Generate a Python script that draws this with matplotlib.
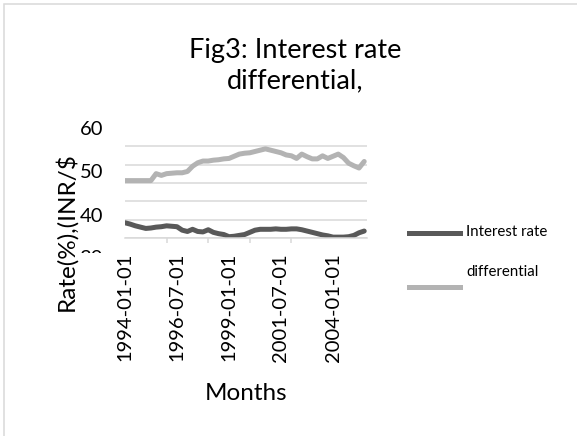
import matplotlib
matplotlib.use('Agg')
import matplotlib.pyplot as plt
import matplotlib.dates as mdates
from matplotlib.lines import Line2D
from matplotlib.patches import Rectangle
from matplotlib.transforms import Bbox, TransformedBbox
import numpy as np
import pandas as pd

W, H = 577, 436

# quarterly observations, Jan 1994 - Jul 2005
dates = pd.date_range('1994-01-01', '2005-07-01', freq='3MS')

rate = [38.2, 37.9, 37.5, 37.2, 36.9, 37.0, 37.2, 37.3, 37.5, 37.4,
        37.3, 36.5, 36.2, 36.7, 36.2, 36.1, 36.6, 36.0, 35.7, 35.5,
        35.0, 35.1, 35.3, 35.5, 36.0, 36.5, 36.7, 36.7, 36.7, 36.8,
        36.7, 36.7, 36.8, 36.8, 36.6, 36.3, 36.0, 35.7, 35.4, 35.2,
        34.9, 34.9, 34.9, 35.0, 35.3, 35.9, 36.3]

diff = [47.9, 47.9, 47.9, 47.9, 47.9, 47.9, 49.5, 49.1, 49.5, 49.6,
        49.7, 49.7, 50.0, 51.2, 52.0, 52.4, 52.4, 52.6, 52.7, 52.9,
        53.0, 53.5, 54.0, 54.2, 54.3, 54.6, 54.9, 55.2, 54.9, 54.6,
        54.3, 53.8, 53.6, 53.0, 54.0, 53.4, 52.9, 52.9, 53.6, 53.0,
        53.5, 54.0, 53.2, 51.9, 51.3, 50.8, 52.3]

tick_dates = ['1994-01-01', '1996-07-01', '1999-01-01', '2001-07-01', '2004-01-01']
y_ticks = [40, 50, 60]

DARK = '#595959'
LIGHT = '#b3b3b3'
GRID = '#d9d9d9'

plt.rcParams['font.family'] = ['Lato', 'DejaVu Sans']

fig = plt.figure(figsize=(W / 100, H / 100), dpi=100)
ax = fig.add_axes([125 / W, 1 - 238 / H, (367 - 125) / W, (238 - 128) / H])

ax.plot(dates, rate, color=DARK, lw=3.6, solid_capstyle='round', solid_joinstyle='round')
ax.plot(dates, diff, color=LIGHT, lw=3.6, solid_capstyle='round', solid_joinstyle='round')

ax.set_xlim(pd.Timestamp('1994-01-01'), pd.Timestamp('2005-08-19'))
ax.set_ylim(34.7, 60)

# x axis: rotated date labels, small tick marks every two years
ax.set_xticks(pd.to_datetime(tick_dates))
ax.set_xticklabels(tick_dates, rotation=90)
ax.xaxis.set_minor_locator(mdates.YearLocator(2))
ax.tick_params(axis='x', which='major', length=0, pad=10.8, labelsize=14.5)
ax.tick_params(axis='x', which='minor', length=3.6, width=1.1, color=GRID, direction='out')

# y axis
ax.set_yticks(y_ticks)
ax.set_yticks(np.linspace(34.7, 60, 7), minor=True)
ax.tick_params(axis='y', which='both', length=0)
ax.tick_params(axis='y', which='major', pad=15.8, labelsize=14.5)
ax.grid(axis='y', which='minor', color=GRID, lw=1.1)
ax.set_axisbelow(True)

for s in ['left', 'right', 'top']:
    ax.spines[s].set_visible(False)
ax.spines['bottom'].set_color(GRID)
ax.spines['bottom'].set_linewidth(1.1)

# the 30 label is cut off below the plot
t = ax.text(-22 / 242, 30, '30', transform=ax.get_yaxis_transform(),
            ha='right', va='center', fontsize=14.5)
t.set_clip_path(None)
t.set_clip_box(TransformedBbox(Bbox.from_extents(0, 1 - 253 / H, 1, 1), fig.transFigure))
t.set_clip_on(True)

fig.text(295 / W, 1 - 58 / H, 'Fig3: Interest rate', ha='center', va='baseline', fontsize=19.5)
fig.text(295 / W, 1 - 88 / H, 'differential,', ha='center', va='baseline', fontsize=19.5)
fig.text(66 / W, 1 - 232 / H, 'Rate(%),(INR/$', rotation=90, ha='center', va='center', fontsize=17.5)
fig.text(246.5 / W, 1 - 400 / H, 'Months', ha='center', va='baseline', fontsize=17.5)

# legend
fig.add_artist(Line2D([409 / W, 460 / W], [1 - 233 / H] * 2, color=DARK, lw=3.6))
fig.add_artist(Line2D([409 / W, 460 / W], [1 - 287 / H] * 2, color=LIGHT, lw=3.6))
fig.text(466 / W, 1 - 232 / H, 'Interest rate', va='center', fontsize=10.8)
fig.text(466 / W, 1 - 272 / H, 'differential', va='center', fontsize=10.8)

# chart frame
fig.add_artist(Rectangle((4 / W, -1), 2, 2 - 4 / H, transform=fig.transFigure,
                         fill=False, ec=GRID, lw=1.1))

fig.savefig('out.png', dpi=100)
